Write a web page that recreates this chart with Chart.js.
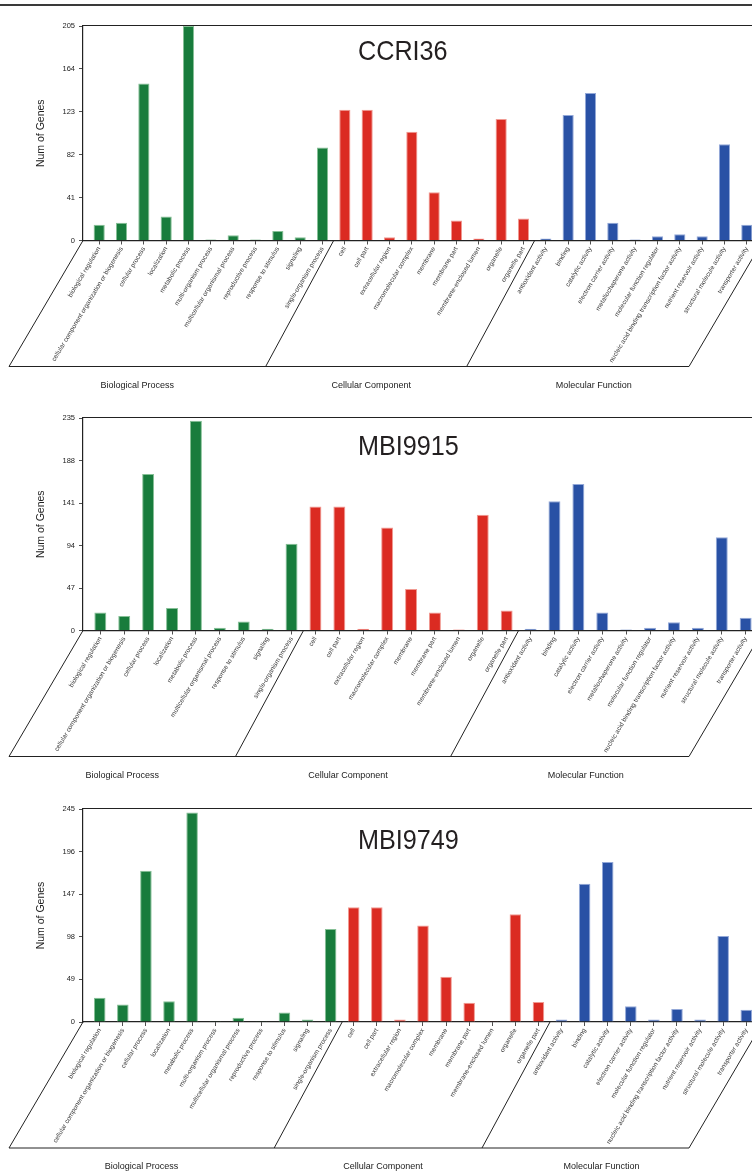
<!DOCTYPE html>
<html>
<head>
<meta charset="utf-8">
<script src="https://cdn.jsdelivr.net/npm/chart.js@4.4.1/dist/chart.umd.min.js"></script>
<style>
  html, body { margin: 0; padding: 0; background: #fff; }
  body { width: 752px; height: 1171px; overflow: hidden; position: relative; }
  canvas { position: absolute; left: 0; }
  .rule { position: absolute; left: 0; top: 4px; width: 752px; height: 2px; background: #3a3a3a; }
</style>
</head>
<body>
<div class="rule"></div>
<canvas id="c1"></canvas>
<canvas id="c2"></canvas>
<canvas id="c3"></canvas>
<script>
// GO term categories
const groupNames = ['Biological Process', 'Cellular Component', 'Molecular Function'];

// CCRI36
const ccri36Terms = [
  'biological regulation', 'cellular component organization or biogenesis', 'cellular process',
  'localization', 'metabolic process', 'multi-organism process', 'multicellular organismal process',
  'reproductive process', 'response to stimulus', 'signaling', 'single-organism process',
  'cell', 'cell part', 'extracellular region', 'macromolecular complex', 'membrane', 'membrane part',
  'membrane-enclosed lumen', 'organelle', 'organelle part',
  'antioxidant activity', 'binding', 'catalytic activity', 'electron carrier activity',
  'metallochaperone activity', 'molecular function regulator',
  'nucleic acid binding transcription factor activity', 'nutrient reservoir activity',
  'structural molecule activity', 'transporter activity'
];
const ccri36GroupSizes = [11, 9, 10];
const ccri36Counts = [15, 17, 150, 23, 205, 1, 5, 1, 9, 3, 89,
  125, 125, 3, 104, 46, 19, 2, 116, 21,
  2, 120, 141, 17, 1, 4, 6, 4, 92, 15];
const ccri36Ticks = [0, 41, 82, 123, 164, 205];

// MBI9915
const mbi9915Terms = [
  'biological regulation', 'cellular component organization or biogenesis', 'cellular process',
  'localization', 'metabolic process', 'multicellular organismal process', 'response to stimulus',
  'signaling', 'single-organism process',
  'cell', 'cell part', 'extracellular region', 'macromolecular complex', 'membrane', 'membrane part',
  'membrane-enclosed lumen', 'organelle', 'organelle part',
  'antioxidant activity', 'binding', 'catalytic activity', 'electron carrier activity',
  'metallochaperone activity', 'molecular function regulator',
  'nucleic acid binding transcription factor activity', 'nutrient reservoir activity',
  'structural molecule activity', 'transporter activity'
];
const mbi9915GroupSizes = [9, 9, 10];
const mbi9915Counts = [20, 16, 173, 25, 232, 3, 10, 2, 96,
  137, 137, 2, 114, 46, 20, 1, 128, 22,
  2, 143, 162, 20, 1, 3, 9, 3, 103, 14];
const mbi9915Ticks = [0, 47, 94, 141, 188, 235];

// MBI9749
const mbi9749Terms = [
  'biological regulation', 'cellular component organization or biogenesis', 'cellular process',
  'localization', 'metabolic process', 'multi-organism process', 'multicellular organismal process',
  'reproductive process', 'response to stimulus', 'signaling', 'single-organism process',
  'cell', 'cell part', 'extracellular region', 'macromolecular complex', 'membrane', 'membrane part',
  'membrane-enclosed lumen', 'organelle', 'organelle part',
  'antioxidant activity', 'binding', 'catalytic activity', 'electron carrier activity',
  'molecular function regulator', 'nucleic acid binding transcription factor activity',
  'nutrient reservoir activity', 'structural molecule activity', 'transporter activity'
];
const mbi9749GroupSizes = [11, 9, 9];
const mbi9749Counts = [28, 20, 174, 24, 241, 1, 5, 1, 11, 3, 107,
  132, 132, 3, 111, 52, 22, 1, 124, 23,
  3, 159, 184, 18, 3, 15, 3, 99, 14];
const mbi9749Ticks = [0, 49, 98, 147, 196, 245];

const strainNames = ['CCRI36', 'MBI9915', 'MBI9749'];

// styling
const FONT = '"Liberation Sans", Arial, Helvetica, sans-serif';
const INK = '#222';
const groupFill = ['#187c3c', '#db2b22', '#2951a5'];
const groupEdge = ['#86c096', '#f19a92', '#93a8d8'];
const CANVAS_W = 775;      // axis runs a little past the window's right edge
const AREA_LEFT = 83;
const AREA_RIGHT = 763;
const EDGE_PAD = 0.725;    // space before first / after last bar, in category widths

Chart.defaults.font.family = FONT;
Chart.defaults.color = INK;

// title, box top, group brackets and group names
const goFrame = {
  id: 'goFrame',
  afterDraw(chart, args, o) {
    const { ctx, chartArea: a, scales: { x } } = chart;
    ctx.save();
    ctx.strokeStyle = INK;
    ctx.lineWidth = 1.2;
    ctx.beginPath();
    ctx.moveTo(a.left, a.top - 0.5);
    ctx.lineTo(a.right, a.top - 0.5);
    ctx.stroke();

    ctx.fillStyle = '#231f20';
    ctx.font = '28px ' + FONT;
    ctx.textAlign = 'left';
    ctx.textBaseline = 'alphabetic';
    ctx.save();
    ctx.translate(358, a.top + o.titleBaseline);
    ctx.scale(0.9, 1);
    ctx.fillText(o.title, 0, 0);
    ctx.restore();

    const yTop = a.bottom;
    const yBot = a.bottom + 126;
    const tops = [a.left];
    let cum = 0;
    o.groupSizes.forEach((n, k) => {
      cum += n;
      tops.push(k === o.groupSizes.length - 1 ? a.right : x.getPixelForValue(cum - 0.5));
    });
    const last = tops.length - 1;
    const bots = tops.map((t, k) => t - ((k === 0 || k === last) ? 74 : 68));
    ctx.lineWidth = 1;
    ctx.beginPath();
    tops.forEach((t, k) => { ctx.moveTo(t, yTop); ctx.lineTo(bots[k], yBot); });
    ctx.moveTo(bots[0], yBot);
    ctx.lineTo(bots[last], yBot);
    ctx.stroke();

    const nudge = [0, 5, 16];
    ctx.fillStyle = INK;
    ctx.font = '9px ' + FONT;
    ctx.textAlign = 'center';
    ctx.textBaseline = 'middle';
    groupNames.forEach((g, k) => {
      ctx.fillText(g, (bots[k] + bots[k + 1]) / 2 + nudge[k], a.bottom + 145);
    });
    ctx.restore();
  }
};

function groupIndexList(sizes) {
  const out = [];
  sizes.forEach((n, k) => { for (let i = 0; i < n; i++) out.push(k); });
  return out;
}

function drawPanel(canvasId, top, height, areaTop, areaBottom, titleBaseline,
                   title, terms, counts, groupSizes, yTicks) {
  const cv = document.getElementById(canvasId);
  cv.width = CANVAS_W;
  cv.height = height;
  cv.style.width = CANVAS_W + 'px';
  cv.style.height = height + 'px';
  cv.style.top = top + 'px';

  const gIdx = groupIndexList(groupSizes);
  const yMax = yTicks[yTicks.length - 1];

  new Chart(cv, {
    type: 'bar',
    data: {
      labels: terms.map((_, i) => i),
      datasets: [{
        data: counts,
        backgroundColor: gIdx.map(k => groupFill[k]),
        borderColor: gIdx.map(k => groupEdge[k]),
        borderWidth: 1,
        borderSkipped: 'bottom',
        categoryPercentage: 0.5,
        barPercentage: 1
      }]
    },
    options: {
      responsive: false,
      animation: false,
      devicePixelRatio: 1,
      layout: { padding: { top: areaTop, right: CANVAS_W - AREA_RIGHT, bottom: 0, left: 0 } },
      plugins: {
        legend: { display: false },
        tooltip: { enabled: false },
        goFrame: { title, groupSizes, titleBaseline }
      },
      scales: {
        x: {
          type: 'linear',
          min: -EDGE_PAD,
          max: terms.length - 1 + EDGE_PAD,
          offset: false,
          afterBuildTicks: (axis) => { axis.ticks = terms.map((_, i) => ({ value: i })); },
          afterFit: (axis) => { axis.height = height - areaBottom; },
          ticks: {
            autoSkip: false,
            minRotation: 59,
            maxRotation: 59,
            padding: 1,
            color: '#333',
            font: { size: 6.5 },
            callback: (v) => terms[v]
          },
          grid: {
            offset: false,
            drawOnChartArea: false,
            drawTicks: true,
            tickLength: 4,
            color: INK,
            lineWidth: 0.8
          },
          border: { display: true, color: INK, width: 1.2 }
        },
        y: {
          min: 0,
          max: yMax,
          afterBuildTicks: (axis) => { axis.ticks = yTicks.map(v => ({ value: v })); },
          afterFit: (axis) => { axis.width = AREA_LEFT; },
          ticks: { color: INK, font: { size: 7.5 }, padding: 4 },
          grid: {
            drawOnChartArea: false,
            drawTicks: true,
            tickLength: 4,
            color: INK,
            lineWidth: 0.8
          },
          border: { display: true, color: INK, width: 1.2 },
          title: {
            display: true,
            text: 'Num of Genes',
            color: INK,
            font: { size: 10.5 },
            padding: { top: 35, bottom: 0 }
          }
        }
      }
    },
    plugins: [goFrame]
  });
}

drawPanel('c1', 0, 395, 26, 240.5, 34, strainNames[0],
          ccri36Terms, ccri36Counts, ccri36GroupSizes, ccri36Ticks);
drawPanel('c2', 395, 390, 23, 235.5, 37, strainNames[1],
          mbi9915Terms, mbi9915Counts, mbi9915GroupSizes, mbi9915Ticks);
drawPanel('c3', 785, 386, 24, 237, 40, strainNames[2],
          mbi9749Terms, mbi9749Counts, mbi9749GroupSizes, mbi9749Ticks);
</script>
</body>
</html>
